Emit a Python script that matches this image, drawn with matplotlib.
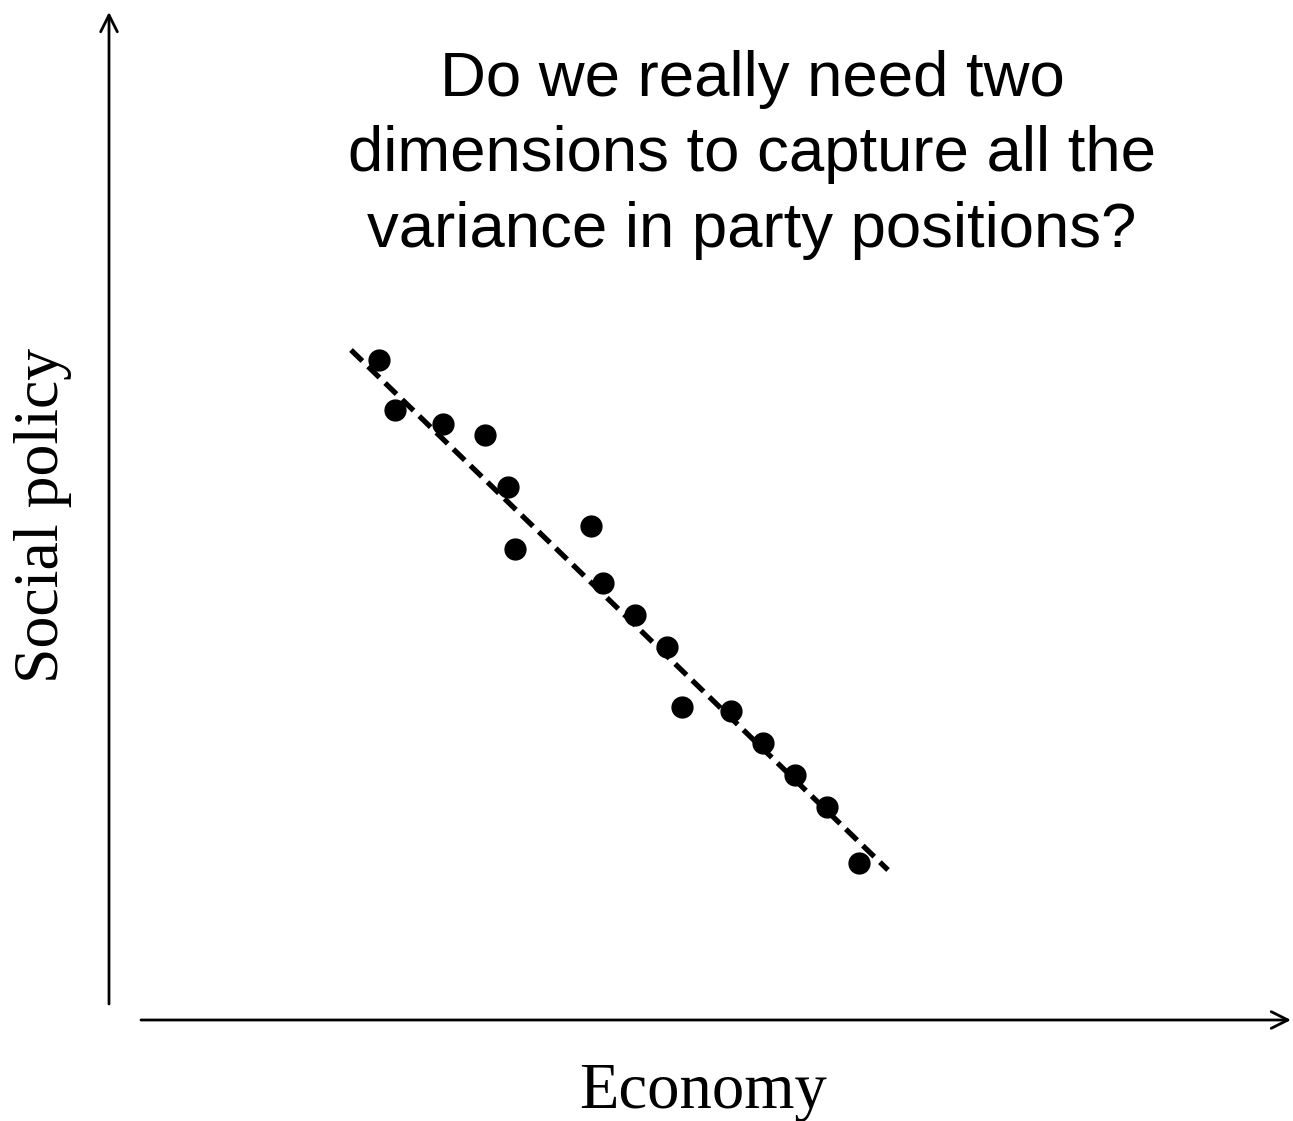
import matplotlib
matplotlib.use('Agg')
import matplotlib.pyplot as plt

# Party positions (economy, social policy), pixel-like units
economy = [379, 395, 443, 485, 508, 515, 591, 603, 635, 667, 682, 731, 763, 795, 827, 859]
social = [360, 410, 424, 435, 487, 549, 526, 583, 615, 647, 707, 711, 743, 775, 807, 863]

# Fitted line ends
fit_x = [351, 888]
fit_y = [350, 870]

title = "Do we really need two\ndimensions to capture all the\nvariance in party positions?"

fig = plt.figure(figsize=(12.93, 11.21), dpi=100)
ax = fig.add_axes([0, 0, 1, 1])
ax.set_xlim(0, 1293)
ax.set_ylim(1121, 0)
ax.axis('off')

# Axes drawn as arrows
ax.annotate('', xy=(109, 12), xytext=(109, 1004),
            arrowprops=dict(arrowstyle='->', lw=2, color='black',
                            mutation_scale=30, shrinkA=0, shrinkB=0))
ax.annotate('', xy=(1291, 1020), xytext=(141, 1020),
            arrowprops=dict(arrowstyle='->', lw=2, color='black',
                            mutation_scale=30, shrinkA=0, shrinkB=0))

ax.plot(fit_x, fit_y, color='black', lw=3.8, dashes=(3, 1.5))
ax.plot(economy, social, 'o', color='black', markersize=15)

ax.text(752, 155, title, ha='center', va='center', fontsize=45.7,
        family='Liberation Sans', linespacing=1.36)
ax.text(703, 1092, 'Economy', ha='center', va='center', fontsize=46.5,
        family='Liberation Serif')
ax.text(43, 515, 'Social policy', ha='center', va='center', fontsize=46,
        family='Liberation Serif', rotation=90)

fig.savefig('out.png', dpi=100)
